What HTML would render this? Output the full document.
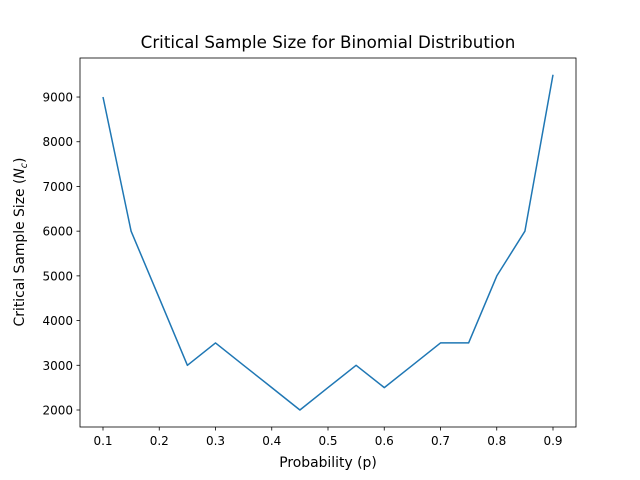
<!DOCTYPE html>
<html><head><meta charset="utf-8"><style>body{margin:0;background:#fff}svg{display:block;font-family:"DejaVu Sans","Liberation Sans",sans-serif}</style></head>
<body>
<svg id="chart" width="640" height="480" viewBox="0 0 640 480" xmlns="http://www.w3.org/2000/svg">
<rect width="640" height="480" fill="#fff"/>
<text x="328" y="48" text-anchor="middle" font-size="16.7">Critical Sample Size for Binomial Distribution</text>
<text x="328" y="467" text-anchor="middle" font-size="13.9">Probability (p)</text>
<text transform="translate(24,242) rotate(-90)" text-anchor="middle" font-size="13.9">Critical Sample Size (<tspan font-style="italic">N</tspan><tspan font-size="9.5" dy="3" font-style="italic">c</tspan><tspan dy="-3">)</tspan></text>
<g id="ticks"></g>
<path id="series" fill="none" stroke="#1f77b4" stroke-width="1.5" stroke-linejoin="round"/>
<rect x="80" y="58" width="496" height="369" fill="none" stroke="#000" stroke-width="0.8"/>
</svg>
<script>
const probs=[0.1,0.15,0.2,0.25,0.3,0.35,0.4,0.45,0.5,0.55,0.6,0.65,0.7,0.75,0.8,0.85,0.9];
const sizes=[9000,6000,4500,3000,3500,3000,2500,2000,2500,3000,2500,3000,3500,3500,5000,6000,9500];
const xTicks=[0.1,0.2,0.3,0.4,0.5,0.6,0.7,0.8,0.9];
const yTicks=[2000,3000,4000,5000,6000,7000,8000,9000];
const xs=v=>103+(v-0.1)*562.5;
const ys=v=>410-(v-2000)*0.04471;
const NS='http://www.w3.org/2000/svg';
const g=document.getElementById('ticks');
xTicks.forEach(t=>{
 const l=document.createElementNS(NS,'line');
 
 
 l.setAttribute('x1',xs(t));l.setAttribute('x2',xs(t));l.setAttribute('y1',427);l.setAttribute('y2',430.5);l.setAttribute('stroke','#000');l.setAttribute('stroke-width','0.8');g.appendChild(l);
 const tx=document.createElementNS(NS,'text');
 
 
 tx.setAttribute('x',xs(t));tx.setAttribute('y',445);tx.setAttribute('text-anchor','middle');tx.setAttribute('font-size','12');tx.textContent=t.toFixed(1);g.appendChild(tx);
});
yTicks.forEach(t=>{
 const l=document.createElementNS(NS,'line');
 
 
 l.setAttribute('x1',76.5);l.setAttribute('x2',80);l.setAttribute('y1',ys(t));l.setAttribute('y2',ys(t));l.setAttribute('stroke','#000');l.setAttribute('stroke-width','0.8');g.appendChild(l);
 const tx=document.createElementNS(NS,'text');
 
 
 tx.setAttribute('x',73);tx.setAttribute('y',ys(t)+4.5);tx.setAttribute('text-anchor','end');tx.setAttribute('font-size','12');tx.textContent=t;g.appendChild(tx);
});
document.getElementById('series').setAttribute('d',probs.map((p,i)=>(i?'L':'M')+xs(p).toFixed(1)+' '+ys(sizes[i]).toFixed(1)).join(' '));
</script>
</body></html>
